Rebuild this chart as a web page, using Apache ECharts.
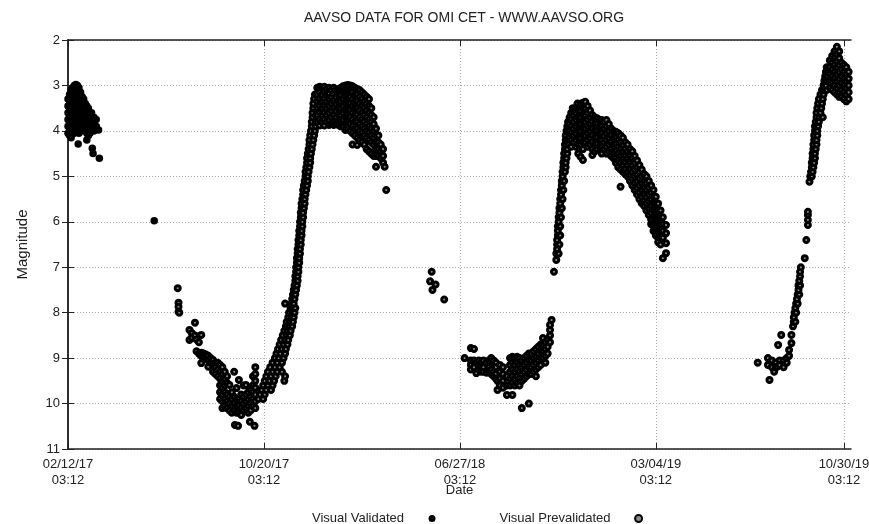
<!DOCTYPE html>
<html><head><meta charset="utf-8">
<script src="https://cdn.jsdelivr.net/npm/echarts@6/dist/echarts.min.js"></script>
<style>html,body{margin:0;padding:0;background:#fff}#c{width:869px;height:524px}</style>
</head><body><div id="c"></div>
<script>
// X values are days since 02/12/17 03:12; Y values are visual magnitudes.
const tickDays = [0, 250, 500, 750, 990];
const tickLabels = ['02/12/17\n03:12', '10/20/17\n03:12', '06/27/18\n03:12', '03/04/19\n03:12', '10/30/19\n03:12'];
const magTicks = [2, 3, 4, 5, 6, 7, 8, 9, 10, 11];

// Rows by day: [day, mag, mag, ...]
const validatedRows = [
  [0, 3.3,3.45,3.6,3.75,3.9,4.05],
  [2, 3.2,3.35,3.5,3.65,3.8,3.95,4.1],
  [4, 3.1,3.25,3.4,3.55,3.7,3.85,4.0,4.15],
  [6, 3.05,3.2,3.35,3.5,3.65,3.8,3.95],
  [8, 3.0,3.15,3.3,3.45,3.6,3.75,3.9,4.05],
  [10, 2.98,3.1,3.25,3.4,3.55,3.7,3.85,4.0],
  [12, 3.0,3.15,3.3,3.45,3.6,3.75,3.9],
  [13, 4.29],
  [14, 3.05,3.2,3.35,3.5,3.65,3.8,3.95,4.05],
  [16, 3.15,3.3,3.45,3.6,3.75,3.9,4.0],
  [18, 3.25,3.4,3.55,3.7,3.85,3.95],
  [20, 3.3,3.45,3.6,3.75,3.9],
  [22, 3.4,3.55,3.7,3.85,4.0],
  [24, 3.45,3.6,3.75,3.9,4.05,4.2],
  [26, 3.5,3.65,3.8,3.95,4.1],
  [28, 3.6,3.75,3.9,4.05],
  [30, 3.6,3.75,3.9,4.0],
  [31, 4.38],
  [32, 4.5],
  [33, 3.7,3.85,4.0],
  [36, 3.75,3.9],
  [39, 3.98],
  [40, 4.6],
  [110, 5.98]
];

const cycle1MinRows = [
  [140, 7.46],[141, 7.78,7.87,7.98],[142, 8.0],
  [155, 8.38,8.6],[158, 8.45,8.55],[162, 8.22,8.5],[164, 8.59,8.85],[167, 8.65,8.9],
  [170, 8.49,8.88,8.95,9.11],[173, 8.9,8.97],[176, 8.92,9.0],[179, 8.95,9.05,9.19],
  [182, 9.0,9.1],[185, 9.04,9.15,9.3],[188, 9.1,9.2,9.35],[191, 9.1,9.25,9.4],
  [194, 9.15,9.3,9.45,9.6,9.75,9.9],[197, 9.2,9.35,9.5,9.65,9.8,9.95,10.1],
  [200, 9.3,9.45,9.6,9.75,9.9,10.05],[203, 9.4,9.55,9.8,9.95,10.1],
  [206, 9.59,9.85,10.0,10.15],[209, 9.75,9.9,10.05,10.2],[212, 9.3,9.85,10.0,10.15],
  [213, 10.47],[215, 9.66,9.9,10.05,10.2],[217, 10.49],[218, 9.48,9.9,10.05,10.2],
  [221, 9.8,9.95,10.1,10.25],[224, 9.6,9.85,10.0,10.15],[227, 9.59,9.8,9.95,10.1],
  [230, 9.75,9.9,10.05,10.2],[232, 10.4],[233, 9.7,9.85,10.0,10.15],
  [236, 9.4,9.6,9.75,9.9,10.05],[238, 10.49],[239, 9.2,9.35,9.5,9.65,9.8,9.95,10.1]
];

// Rows by magnitude: [mag, day, day, ...]
const cycle1RiseRows = [
  [9.9, 243,249],[9.8, 245,251],[9.7, 247,253,259],[9.6, 249,255,261],
  [9.5, 251,257,263,276],[9.4, 253,259,265,277],[9.3, 255,261,267,273],
  [9.2, 258,264,270],[9.1, 261,267,273],[9.0, 264,269,275],[8.9, 266,271,277],
  [8.8, 268,273,278],[8.7, 270,275,280],[8.6, 272,277,281],[8.5, 274,279,283],
  [8.4, 276,280,284],[8.3, 278,282,286],[8.2, 279,283,287],[8.1, 281,285,288],
  [8.0, 282,286,289],[7.9, 284,287,290],[7.8, 277,285,288],[7.7, 286,289],
  [7.6, 287,290],[7.5, 288,291],[7.4, 289,292],[7.3, 290,293],[7.2, 290,293],
  [7.1, 291,294],[7.0, 291,294],[6.9, 292,295],[6.8, 292,295],[6.7, 293,296],
  [6.6, 293,296],[6.5, 294,297],[6.4, 294,297],[6.3, 295,298],[6.2, 295,298],
  [6.1, 296,299],[6.0, 296,299],[5.9, 297,300],[5.8, 297,300],[5.7, 298,301],
  [5.6, 298,302],[5.5, 299,302],[5.4, 300,303],[5.3, 300,304],[5.2, 301,305],
  [5.1, 302,306],[5.0, 303,306],[4.9, 303,307],[4.8, 304,308],[4.7, 305,309],
  [4.6, 305,309],[4.5, 306,310],[4.4, 307,311],[4.3, 308,312],[4.2, 308,313],
  [4.1, 309,314],[4.0, 310,315],[3.9, 311,316],[3.8, 311,316],[3.7, 312,317],
  [3.6, 312,317],[3.5, 313],[3.4, 313],[3.3, 314],[3.2, 315]
];

const cycle1PeakRows = [
  [318, 3.05,3.2,3.35,3.5,3.65,3.8],
  [321, 3.03,3.15,3.3,3.45,3.6,3.75,3.88],
  [324, 3.05,3.2,3.35,3.5,3.65,3.8],
  [327, 3.03,3.15,3.3,3.45,3.6,3.75,3.88],
  [330, 3.08,3.2,3.35,3.5,3.65,3.8],
  [333, 3.05,3.18,3.3,3.45,3.6,3.75,3.87],
  [336, 3.1,3.25,3.4,3.55,3.7,3.85],
  [339, 3.05,3.2,3.35,3.5,3.65,3.8,3.87],
  [342, 3.1,3.25,3.4,3.55,3.7,3.85],
  [345, 3.08,3.2,3.35,3.5,3.65,3.8,3.87],
  [348, 3.05,3.2,3.35,3.5,3.65,3.8,3.9],
  [351, 3.02,3.15,3.3,3.45,3.6,3.75,3.9],
  [354, 3.0,3.12,3.25,3.4,3.55,3.7,3.85,3.98],
  [357, 2.99,3.1,3.25,3.4,3.55,3.7,3.85,3.95],
  [360, 3.0,3.12,3.25,3.4,3.55,3.7,3.85,4.0],
  [363, 3.02,3.15,3.3,3.45,3.6,3.75,3.9,4.05,4.3],
  [366, 3.05,3.2,3.35,3.5,3.65,3.8,3.95,4.1],
  [369, 3.08,3.2,3.35,3.5,3.65,3.8,3.95,4.15,4.31],
  [372, 3.1,3.25,3.4,3.55,3.7,3.85,4.0,4.2],
  [375, 3.15,3.3,3.45,3.6,3.75,3.9,4.05,4.25],
  [378, 3.2,3.35,3.5,3.65,3.8,3.95,4.1,4.3],
  [381, 3.25,3.4,3.55,3.7,3.85,4.0,4.15,4.4],
  [384, 3.3,3.45,3.6,3.75,3.9,4.05,4.2,4.45],
  [387, 3.5,3.65,3.8,3.95,4.1,4.25,4.5],
  [390, 3.7,3.85,4.0,4.15,4.3,4.55],
  [393, 3.95,4.1,4.25,4.4,4.55,4.79],
  [396, 4.1,4.25,4.4,4.55],
  [399, 4.3,4.45,4.6],
  [402, 4.4,4.55,4.7],
  [404, 4.79],
  [406, 5.3]
];

const cycle2IsolatedRows = [
  [462, 7.31],[464, 7.1],[465, 7.5],[469, 7.38],[480, 7.71]
];

const cycle2MinRows = [
  [506, 9.0],[514, 8.78,9.05,9.15,9.25],[518, 8.8,9.05,9.2],[521, 9.1,9.33],
  [524, 9.05,9.15,9.25],[527, 9.1,9.2,9.3],[530, 9.05,9.2,9.3],[534, 9.1,9.32],
  [537, 9.05,9.2,9.3],[540, 9.0,9.1,9.25,9.35],[543, 9.05,9.15,9.3,9.4],
  [546, 9.1,9.2,9.35,9.45],[548, 9.5,9.7],[551, 9.15,9.3,9.45,9.6],
  [555, 9.2,9.35,9.5,9.65],[560, 9.4,9.6,9.81],[564, 9.0,9.15,9.3,9.45,9.6],
  [567, 8.97,9.1,9.25,9.4,9.55,9.81],[570, 9.0,9.15,9.3,9.45,9.6],
  [573, 8.97,9.1,9.25,9.4,9.55],[576, 9.0,9.15,9.3,9.45,9.6],
  [579, 9.05,9.2,9.35,9.5,10.1],[582, 9.0,9.15,9.3,9.45],[585, 8.95,9.1,9.25,9.4],
  [588, 8.9,9.05,9.2,9.35,10.0],[591, 8.9,9.05,9.2,9.35],[594, 8.85,9.0,9.15,9.3],
  [597, 8.8,8.95,9.1,9.25,9.4],[600, 8.75,8.9,9.05,9.2],[603, 8.7,8.85,9.0,9.15],
  [606, 8.56,8.7,8.85,9.0],[609, 8.65,8.8,8.95,9.1],[612, 8.6,8.75,8.9],
  [615, 8.27,8.38,8.5,8.65],[617, 8.16],[620, 7.1]
];

const cycle2RiseRows = [
  [6.84, 623],[6.7, 623,626],[6.6, 624],[6.5, 624,627],[6.4, 624],[6.3, 625,628],
  [6.2, 625],[6.1, 625,628],[6.0, 626],[5.9, 626,629],[5.8, 627],[5.7, 627,630],
  [5.6, 628],[5.5, 628,631],[5.4, 629],[5.3, 629,632],[5.2, 630],[5.1, 630,633],
  [5.0, 631],[4.9, 631,634],[4.8, 632,635],[4.7, 632,635],[4.6, 633,636],
  [4.5, 633,637],[4.4, 634,637],[4.3, 634,638],[4.2, 635,639],[4.1, 635,640],
  [4.0, 636,640],[3.9, 637,641,645],[3.8, 638,642,646],[3.7, 640,644,648],
  [3.6, 642,646,650],[3.5, 644,648,652],[3.4, 650,655]
];

const cycle2PeakRows = [
  [639, 3.85,4.0,4.15,4.3],
  [642, 3.75,3.9,4.05,4.2,4.35],
  [645, 3.65,3.8,3.95,4.1,4.25],
  [648, 3.6,3.75,3.9,4.05,4.2,4.35],
  [651, 3.55,3.7,3.85,4.0,4.15,4.3,4.5],
  [654, 3.42,3.55,3.7,3.85,4.0,4.15,4.3,4.57],
  [657, 3.38,3.5,3.65,3.8,3.95,4.1,4.25,4.4,4.64],
  [660, 3.36,3.5,3.65,3.8,3.95,4.1,4.25],
  [663, 3.45,3.6,3.75,3.9,4.05,4.2,4.35],
  [666, 3.55,3.7,3.85,4.0,4.15,4.3],
  [669, 3.65,3.8,3.95,4.1,4.25,4.4,4.53],
  [672, 3.7,3.85,4.0,4.15,4.3,4.45],
  [675, 3.72,3.85,4.0,4.15,4.3,4.4],
  [678, 3.76,3.9,4.05,4.2,4.35],
  [681, 3.76,3.9,4.05,4.2,4.35,4.5],
  [684, 3.8,3.95,4.1,4.25,4.4],
  [687, 3.76,3.9,4.05,4.2,4.35,4.5],
  [690, 3.85,4.0,4.15,4.3,4.45],
  [693, 3.95,4.1,4.25,4.4,4.55],
  [696, 4.0,4.15,4.3,4.45,4.6],
  [699, 4.02,4.15,4.3,4.45,4.6,4.7],
  [702, 4.05,4.2,4.35,4.5,4.65,4.8],
  [705, 4.1,4.25,4.4,4.55,4.7,4.85,5.23],
  [708, 4.15,4.3,4.45,4.6,4.75,4.9],
  [711, 4.25,4.4,4.55,4.7,4.85,4.95],
  [714, 4.3,4.45,4.6,4.75,4.9,5.0],
  [717, 4.4,4.55,4.7,4.85,5.0,5.1],
  [720, 4.45,4.6,4.75,4.9,5.05,5.2],
  [723, 4.55,4.7,4.85,5.0,5.15,5.3],
  [726, 4.65,4.8,4.95,5.1,5.25,5.4],
  [729, 4.75,4.9,5.05,5.2,5.35,5.5],
  [732, 4.85,5.0,5.15,5.3,5.45,5.59],
  [735, 4.95,5.1,5.25,5.4,5.55,5.65],
  [738, 5.0,5.15,5.3,5.45,5.6,5.75],
  [741, 5.1,5.25,5.4,5.55,5.7,5.85],
  [744, 5.2,5.35,5.5,5.65,5.8,5.95,6.05],
  [747, 5.3,5.45,5.6,5.75,5.9,6.05,6.2],
  [750, 5.45,5.6,5.75,5.9,6.05,6.2,6.3],
  [753, 5.6,5.75,5.9,6.05,6.2,6.35,6.45],
  [756, 5.75,5.9,6.05,6.2,6.35,6.5],
  [759, 5.9,6.05,6.2,6.35,6.8],
  [763, 6.07,6.25,6.47,6.69]
];

const cycle3MinRows = [
  [880, 9.1],[893, 9.0,9.15],[895, 9.48],[898, 9.05,9.2],[901, 9.3],[903, 9.1,9.2],
  [905, 9.19],[906, 8.71],[908, 9.05,9.15],[910, 8.49],[913, 9.05,9.2],
  [917, 9.0,9.1],[920, 8.82,8.95],[923, 8.49,8.67]
];

const cycle3RiseRows = [
  [8.3, 925],[8.2, 926,928],[8.1, 926],[8.0, 927,929],[7.9, 928],[7.8, 929,931],
  [7.7, 930],[7.6, 931,933],[7.5, 932],[7.4, 932,934],[7.3, 933],[7.2, 934],
  [7.1, 934],[7.0, 935],[6.8, 940],[6.4, 942],[6.07, 944],[5.96, 944],[5.85, 944],
  [5.78, 944],[5.12, 946],[5.0, 947,949],[4.9, 948,950],[4.8, 949,951],
  [4.7, 949,952],[4.6, 950,953],[4.5, 950,953],[4.4, 951,954],[4.3, 951,955],
  [4.2, 952,955],[4.1, 952,956],[4.0, 953,956],[3.9, 953,957],[3.8, 954,958],
  [3.7, 955,959,963],[3.6, 955,960],[3.5, 956,961],[3.4, 957,962],[3.3, 958,963],
  [3.2, 960,964],[3.1, 962,965,968],[3.0, 964,967],[2.9, 965,968],[2.8, 966,969],
  [2.7, 967,970],[2.6, 968,971]
];

const cycle3PeakRows = [
  [972, 2.45,2.6,2.75,2.9,3.05],
  [975, 2.35,2.5,2.65,2.8,2.95,3.1],
  [978, 2.25,2.4,2.55,2.7,2.85,3.0,3.15],
  [981, 2.15,2.3,2.45,2.6,2.75,2.9,3.05,3.2],
  [984, 2.25,2.4,2.55,2.7,2.85,3.0,3.15,3.25],
  [987, 2.5,2.65,2.8,2.95,3.1,3.25],
  [990, 2.55,2.7,2.85,3.0,3.15,3.3],
  [993, 2.6,2.75,2.9,3.05,3.2,3.35],
  [996, 2.7,2.85,3.0,3.15,3.3]
];

function fromDayRows(rows) {
  const out = [];
  rows.forEach(r => { for (let i = 1; i < r.length; i++) out.push([r[0], r[i]]); });
  return out;
}
function fromMagRows(rows) {
  const out = [];
  rows.forEach(r => { for (let i = 1; i < r.length; i++) out.push([r[i], r[0]]); });
  return out;
}

const validatedData = fromDayRows(validatedRows);
const prevalidatedData = [].concat(
  fromDayRows(cycle1MinRows), fromMagRows(cycle1RiseRows), fromDayRows(cycle1PeakRows),
  fromDayRows(cycle2IsolatedRows), fromDayRows(cycle2MinRows), fromMagRows(cycle2RiseRows),
  fromDayRows(cycle2PeakRows), fromDayRows(cycle3MinRows), fromMagRows(cycle3RiseRows),
  fromDayRows(cycle3PeakRows)
);

const FONT = '"Liberation Sans", Arial, sans-serif';
const TXT = '#222';
const frame = { show: true, lineStyle: { color: '#222', width: 1.5 } };
const dotted = { show: true, lineStyle: { color: '#aaa', width: 1, type: [1, 2] } };

const chart = echarts.init(document.getElementById('c'), null, { renderer: 'canvas' });
chart.setOption({
  animation: false,
  backgroundColor: '#fff',
  textStyle: { fontFamily: FONT },
  title: {
    text: 'AAVSO DATA FOR OMI CET - WWW.AAVSO.ORG',
    left: 459, top: 6, textAlign: 'center',
    textStyle: { fontFamily: FONT, fontSize: 14, fontWeight: 'normal', color: TXT }
  },
  legend: {
    data: ['Visual Validated', 'Visual Prevalidated'],
    left: 307, top: 507, align: 'right',
    itemWidth: 46, itemHeight: 7, itemGap: 64,
    textStyle: { fontFamily: FONT, fontSize: 13, color: TXT }
  },
  grid: { left: 68, right: 18, top: 40, bottom: 75, show: false, outerBoundsMode: 'none', containLabel: false },
  xAxis: [{
    type: 'value', min: 0, max: 999, position: 'bottom',
    name: 'Date', nameLocation: 'middle', nameGap: 35, nameMoveOverlap: false,
    nameTextStyle: { fontFamily: FONT, fontSize: 13, color: TXT },
    axisLine: frame,
    axisTick: { show: true, inside: true, length: 6, customValues: tickDays, lineStyle: { color: '#222' } },
    axisLabel: {
      customValues: tickDays, fontFamily: FONT, fontSize: 13, color: TXT, lineHeight: 16, margin: 7,
      formatter: v => tickLabels[tickDays.indexOf(v)] || ''
    },
    splitLine: dotted
  }, {
    type: 'value', min: 0, max: 999, position: 'top',
    axisLine: frame,
    axisTick: { show: true, inside: true, length: 6, customValues: tickDays, lineStyle: { color: '#222' } },
    axisLabel: { show: false },
    splitLine: { show: false }
  }],
  yAxis: [{
    type: 'value', min: 2, max: 11, interval: 1, inverse: true, position: 'left',
    name: 'Magnitude', nameLocation: 'middle', nameGap: 38, nameRotate: 90, nameMoveOverlap: false,
    nameTextStyle: { fontFamily: FONT, fontSize: 15, color: TXT },
    axisLine: frame,
    axisTick: { show: true, inside: true, length: 6, lineStyle: { color: '#222' } },
    axisLabel: { fontFamily: FONT, fontSize: 13, color: TXT, margin: 8 },
    splitLine: dotted
  }, {
    type: 'value', min: 2, max: 11, interval: 1, inverse: true, position: 'right',
    axisLine: frame,
    axisTick: { show: true, inside: true, length: 6, lineStyle: { color: '#222' } },
    axisLabel: { show: false },
    splitLine: { show: false }
  }],
  series: [{
    name: 'Visual Validated', type: 'scatter', xAxisIndex: 0, yAxisIndex: 0,
    data: validatedData, symbol: 'circle', symbolSize: 7.5,
    itemStyle: { color: '#000', opacity: 1 }, emphasis: { disabled: true }, z: 3
  }, {
    name: 'Visual Prevalidated', type: 'scatter', xAxisIndex: 0, yAxisIndex: 0,
    data: prevalidatedData, symbol: 'circle', symbolSize: 5,
    itemStyle: { color: '#8a8a8a', borderColor: '#000', borderWidth: 3, opacity: 1 },
    emphasis: { disabled: true }, z: 2
  }]
});
</script></body></html>
